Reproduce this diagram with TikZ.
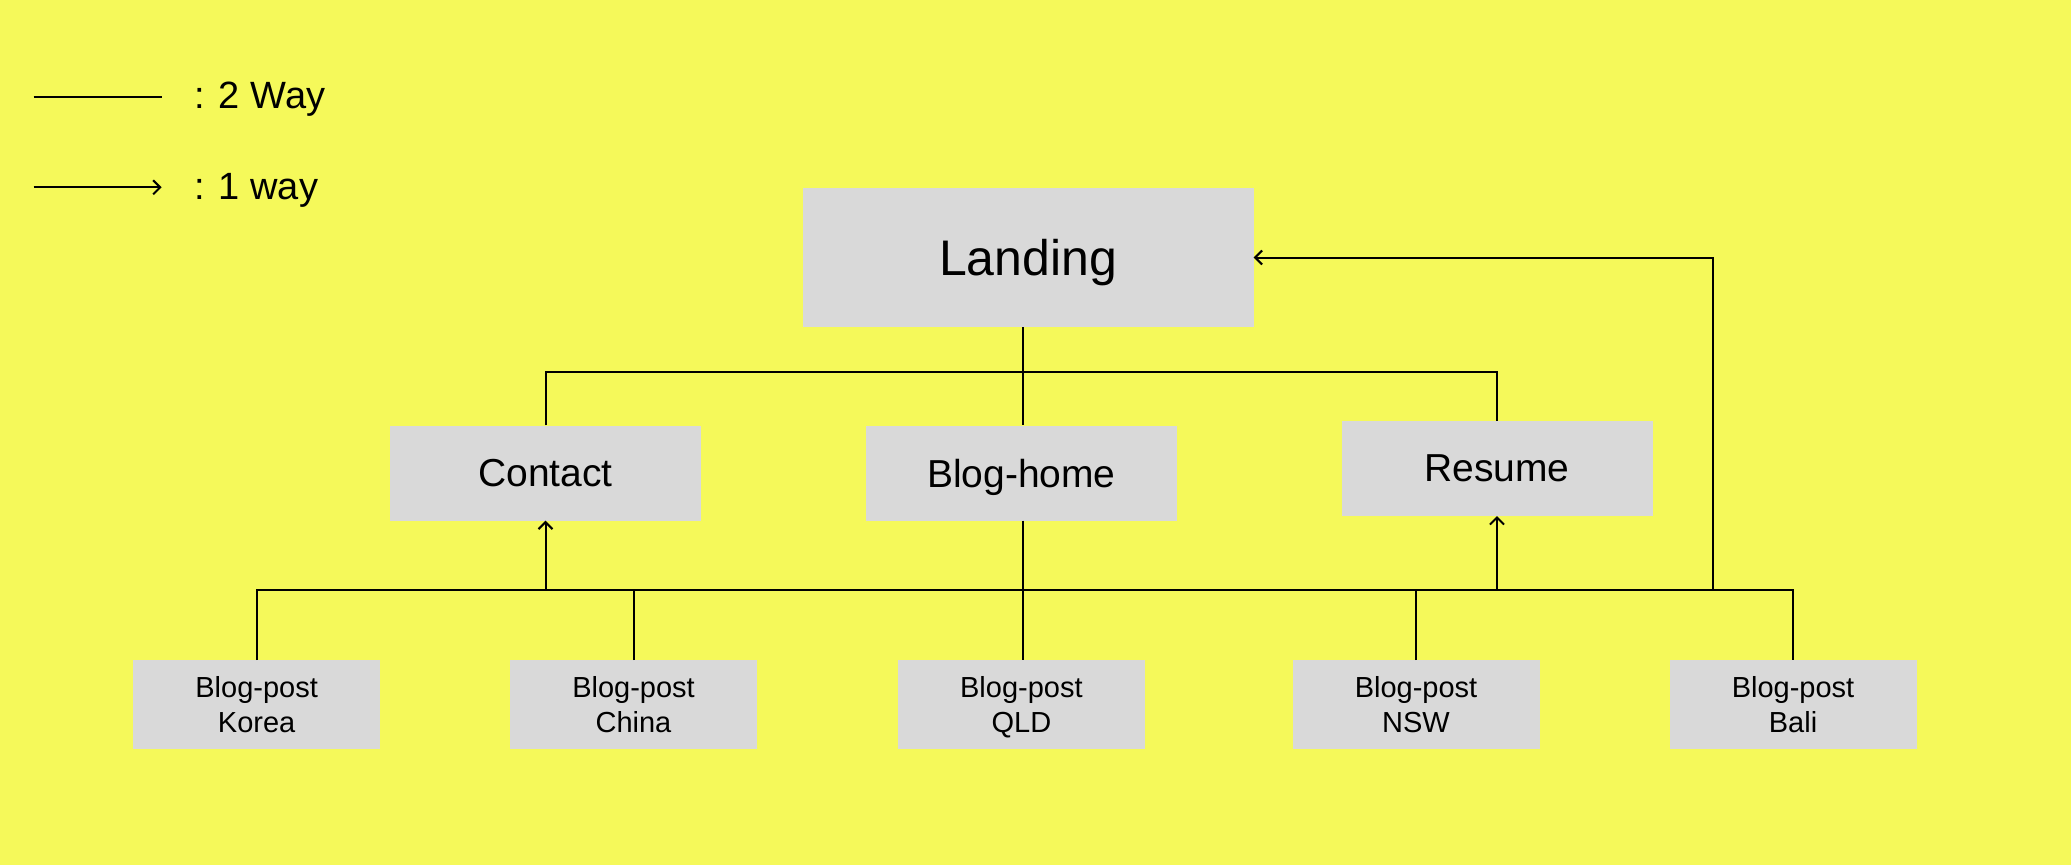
\documentclass[tikz,border=0pt]{standalone}
\usepackage{fontspec}
\setmainfont{Liberation Sans}
\usetikzlibrary{arrows.meta}
\definecolor{bgyellow}{RGB}{245,249,90}
\definecolor{boxgray}{RGB}{217,217,217}
\begin{document}
\begin{tikzpicture}[x=1pt, y=-1pt,
    box/.style={fill=boxgray, inner sep=0pt, text depth=0pt},
    bigbox/.style={box, minimum width=451pt, minimum height=139pt, font=\fontsize{50}{60}\selectfont},
    midbox/.style={box, minimum width=311pt, minimum height=95pt, font=\fontsize{39}{47}\selectfont},
    postbox/.style={box, minimum width=247pt, minimum height=89pt, align=center, font=\fontsize{29}{35}\selectfont},
    legtext/.style={anchor=base west, inner sep=0pt, font=\fontsize{38}{46}\selectfont},
    link/.style={line width=2pt},
    oneway/.style={link, -{Straight Barb[length=7pt,width=14pt]}}]
        % Sfondo
        \fill[bgyellow] (0,0) rectangle (2071,865);
        \useasboundingbox (0,0) rectangle (2071,865);

        % Legenda
        \coordinate (l2a) at (33.5,96.7);
        \coordinate (l2b) at (161.6,96.7);
        \draw[link] (l2a) -- (l2b);
        \node[legtext] (l2txt) at (194,108.3) {: 2 Way};
        \coordinate (l1a) at (33.5,187.3);
        \coordinate (l1b) at (161.6,187.3);
        \draw[oneway] (l1a) -- (l1b);
        \node[legtext] (l1txt) at (194,199.3) {: 1 way};

        % Pagine principali
        \node[bigbox] (landing) at (1028,257.5) {Landing};
        \node[midbox] (contact) at (545.5,473) {Contact};
        \node[midbox] (home) at (1021.3,473) {Blog-home};
        \node[midbox] (resume) at (1497,468.4) {Resume};

        % Blog-post
        \foreach \name/\x/\txt in {korea/256.6/Korea,china/633.5/China,qld/1021.4/QLD,nsw/1416/NSW,bali/1793/Bali}{
            \node[postbox] (\name) at (\x,704.8) {Blog-post\\\txt};
        }

        % Collegamenti
        \coordinate (tj) at (1023,372.3);
        \coordinate (bj) at (1023,590);
        \coordinate (ret) at (1713.3,590);
        \draw[link] (landing.south -| tj) -- (home.north -| tj);
        \draw[link] (contact.north) |- (tj) -| (resume.north);
        \draw[link] (korea.north) |- (bj) -| (bali.north);
        \draw[link] (home.south -| bj) -- (qld.north -| bj);
        \foreach \n in {china,nsw}{
            \draw[link] (\n.north) -- (\n.north |- bj);
        }
        \draw[oneway] (contact.south |- bj) -- (contact.south);
        \draw[oneway] (resume.south |- bj) -- (resume.south);
        \draw[oneway] (ret) |- (landing.east);
\end{tikzpicture}
\end{document}
